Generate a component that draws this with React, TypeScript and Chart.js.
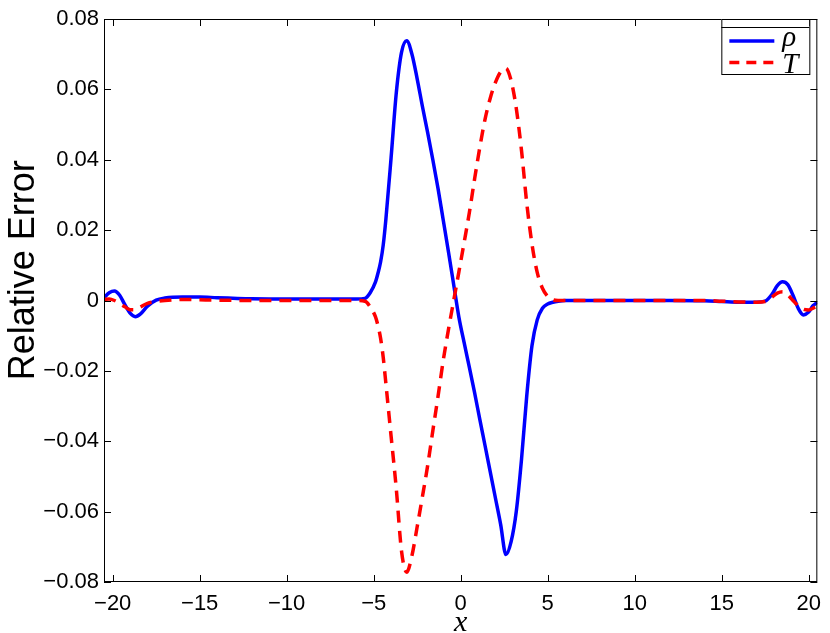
import React, { useEffect, useRef } from "react";
import { Chart, registerables } from "chart.js";

Chart.register(...registerables);

const xGrid = [-20.5, -20.2, -19.9, -19.6, -19.3, -19.0, -18.7, -18.4, -18.0, -17.5, -17.0, -16.0, -15.0, -14.0, -12.0, -10.0, -8.0, -6.0, -5.5, -5.2, -4.9, -4.75, -4.6, -4.45, -4.3, -4.0, -3.7, -3.4, -3.1, -2.8, -2.5, -2.2, -1.9, -1.6, -1.3, -1.0, -0.7, -0.4, -0.1, 0.2, 0.5, 0.8, 1.1, 1.4, 1.7, 2.0, 2.3, 2.6, 2.9, 3.2, 3.5, 3.8, 4.1, 4.4, 4.7, 5.0, 5.3, 5.6, 6.0, 8.0, 10.0, 12.0, 14.0, 15.0, 16.0, 17.0, 17.5, 17.9, 18.2, 18.5, 18.8, 19.1, 19.4, 19.7, 20.0, 20.25, 20.5];

const rhoError = [0.0008, 0.0022, 0.0027, 0.0015, -0.0012, -0.0036, -0.0046, -0.0038, -0.0016, 0.0001, 0.0007, 0.001, 0.001, 0.0008, 0.0005, 0.0004, 0.0004, 0.0004, 0.0006, 0.0022, 0.0052, 0.0078, 0.011, 0.0158, 0.023, 0.0405, 0.059, 0.0705, 0.0738, 0.07, 0.063, 0.0552, 0.0478, 0.04, 0.0318, 0.0228, 0.0138, 0.0045, -0.0048, -0.012, -0.019, -0.0262, -0.0338, -0.0412, -0.0487, -0.0562, -0.0637, -0.0722, -0.0685, -0.0598, -0.045, -0.027, -0.0128, -0.0055, -0.0022, -0.001, -0.0005, -0.0002, 0, 0, 0, 0, -0.0001, -0.0003, -0.0005, -0.0005, -0.0002, 0.0018, 0.0042, 0.0053, 0.0045, 0.0015, -0.0022, -0.0041, -0.0033, -0.0015, -0.0005];

const tError = [0.0003, 0.0004, 0, -0.0008, -0.0018, -0.0026, -0.0026, -0.0018, -0.0008, -0.0003, 0, 0.0003, 0.0002, 0.0001, 0, 0, 0, 0, -0.0002, -0.0018, -0.0046, -0.0072, -0.0108, -0.0162, -0.0235, -0.0385, -0.0535, -0.0712, -0.0772, -0.0725, -0.0643, -0.0558, -0.047, -0.037, -0.0272, -0.017, -0.0082, 0, 0.0082, 0.0165, 0.025, 0.0345, 0.0435, 0.0515, 0.0575, 0.062, 0.065, 0.066, 0.0625, 0.0545, 0.0425, 0.0276, 0.016, 0.008, 0.0035, 0.0012, 0.0002, 0, 0, 0, 0, 0, 0, -0.0002, -0.0004, -0.0005, -0.0003, 0.001, 0.0021, 0.0025, 0.0016, 0, -0.0015, -0.0025, -0.0027, -0.0022, -0.0015];

const xTicks = [-20, -15, -10, -5, 0, 5, 10, 15, 20];
const yTicks = [-0.08, -0.06, -0.04, -0.02, 0, 0.02, 0.04, 0.06, 0.08];
const seriesLabels = ["ρ", "T"];
const yTitle = "Relative Error";
const xTitle = "x";

const SANS = "'Liberation Sans', Arial, Helvetica, sans-serif";
const SERIF = "'Liberation Serif', 'Times New Roman', serif";

const fmtX = (v: number) => (v < 0 ? "\u2212" + Math.abs(v) : String(v));
const fmtY = (v: number) =>
  Math.abs(v) < 1e-9 ? "0" : (v < 0 ? "\u2212" : "") + Math.abs(v).toFixed(2);

const framePlugin = {
  id: "matlabFrame",
  afterDatasetsDraw(chart: any) {
    const { ctx, chartArea, scales } = chart;
    const { left, right, top, bottom } = chartArea;
    const xs = scales.x;
    const ys = scales.y;
    ctx.save();
    ctx.strokeStyle = "#000";
    ctx.lineWidth = 1;
    ctx.strokeRect(left + 0.5, top + 0.5, right - left - 1, bottom - top - 1);
    const tl = 7;
    ctx.beginPath();
    for (const v of xTicks) {
      const px = Math.round(xs.getPixelForValue(v)) + 0.5;
      ctx.moveTo(px, bottom);
      ctx.lineTo(px, bottom - tl);
      ctx.moveTo(px, top);
      ctx.lineTo(px, top + tl);
    }
    for (const v of yTicks) {
      const py = Math.round(ys.getPixelForValue(v)) + 0.5;
      ctx.moveTo(left, py);
      ctx.lineTo(left + tl, py);
      ctx.moveTo(right, py);
      ctx.lineTo(right - tl, py);
    }
    ctx.stroke();

    // y-axis label
    ctx.save();
    ctx.fillStyle = "#000";
    ctx.font = `36px ${SANS}`;
    ctx.textAlign = "center";
    ctx.textBaseline = "alphabetic";
    ctx.translate(34, ys.getPixelForValue(0.0086));
    ctx.rotate(-Math.PI / 2);
    ctx.fillText(yTitle, 0, 0);
    ctx.restore();

    // legend box
    const bRight = right - 8;
    const bLeft = bRight - 88;
    const bTop = top;
    const bBottom = top + 55;
    ctx.fillStyle = "#fff";
    ctx.fillRect(bLeft, bTop, bRight - bLeft, bBottom - bTop);
    ctx.strokeRect(bLeft + 0.5, bTop + 0.5, bRight - bLeft, bBottom - bTop);
    ctx.beginPath();
    ctx.moveTo(bLeft, bTop + 8.5);
    ctx.lineTo(bRight, bTop + 8.5);
    ctx.stroke();

    const rows = [
      { lineY: top + 22, textY: top + 27 },
      { lineY: top + 43.5, textY: top + 54 },
    ];
    [0, 1].forEach((di, i) => {
      const ds = chart.data.datasets[di];
      ctx.save();
      ctx.strokeStyle = ds.borderColor;
      ctx.lineWidth = ds.borderWidth;
      ctx.setLineDash(ds.borderDash ? [10, 7] : []);
      ctx.beginPath();
      ctx.moveTo(bLeft + 8, rows[i].lineY);
      ctx.lineTo(bLeft + 53, rows[i].lineY);
      ctx.stroke();
      ctx.restore();
      ctx.fillStyle = "#000";
      ctx.font = `italic 29px ${SERIF}`;
      ctx.textAlign = "left";
      ctx.textBaseline = "alphabetic";
      ctx.fillText(ds.label, bLeft + 61, rows[i].textY);
    });
    ctx.restore();
  },
};

export default function App() {
  const ref = useRef<HTMLCanvasElement | null>(null);

  useEffect(() => {
    if (!ref.current) return;
    const chart = new Chart(ref.current, {
      type: "line",
      data: {
        datasets: [
          {
            label: seriesLabels[0],
            data: xGrid.map((x, i) => ({ x, y: rhoError[i] })),
            borderColor: "#0000ff",
            borderWidth: 3.5,
            pointRadius: 0,
            cubicInterpolationMode: "monotone",
            fill: false,
            order: 1,
          },
          {
            label: seriesLabels[1],
            data: xGrid.map((x, i) => ({ x, y: tError[i] })),
            borderColor: "#ff0000",
            borderWidth: 3.5,
            borderDash: [12, 8],
            pointRadius: 0,
            cubicInterpolationMode: "monotone",
            fill: false,
            order: 0,
          },
        ],
      },
      options: {
        responsive: false,
        animation: false,
        layout: { padding: { top: 19, right: 11, left: 0, bottom: 0 } },
        plugins: {
          legend: { display: false },
          tooltip: { enabled: false },
        },
        scales: {
          x: {
            type: "linear",
            min: -20.5,
            max: 20.5,
            grid: { display: false, drawTicks: false },
            border: { display: false },
            afterBuildTicks: (s: any) => {
              s.ticks = xTicks.map((v) => ({ value: v }));
            },
            afterFit: (s: any) => {
              s.height = 51;
            },
            ticks: {
              autoSkip: false,
              maxRotation: 0,
              padding: 9,
              color: "#000",
              font: { family: SANS, size: 22 },
              callback: (v: any) => fmtX(Number(v)),
            },
            title: {
              display: true,
              text: xTitle,
              color: "#000",
              font: { family: SERIF, style: "italic", size: 30 },
              padding: { top: 0, bottom: -8 },
            },
          },
          y: {
            type: "linear",
            min: -0.08,
            max: 0.08,
            grid: { display: false, drawTicks: false },
            border: { display: false },
            afterBuildTicks: (s: any) => {
              s.ticks = yTicks.map((v) => ({ value: v }));
            },
            afterFit: (s: any) => {
              s.width = 104;
            },
            ticks: {
              autoSkip: false,
              padding: 5,
              color: "#000",
              font: { family: SANS, size: 22 },
              callback: (v: any) => fmtY(Number(v)),
            },
            title: { display: false, text: yTitle },
          },
        },
      },
      plugins: [framePlugin],
    });
    return () => chart.destroy();
  }, []);

  return (
    <div style={{ position: "absolute", left: 0, top: 0, width: 830, height: 633, background: "#fff" }}>
      <canvas ref={ref} width={830} height={633} />
    </div>
  );
}
